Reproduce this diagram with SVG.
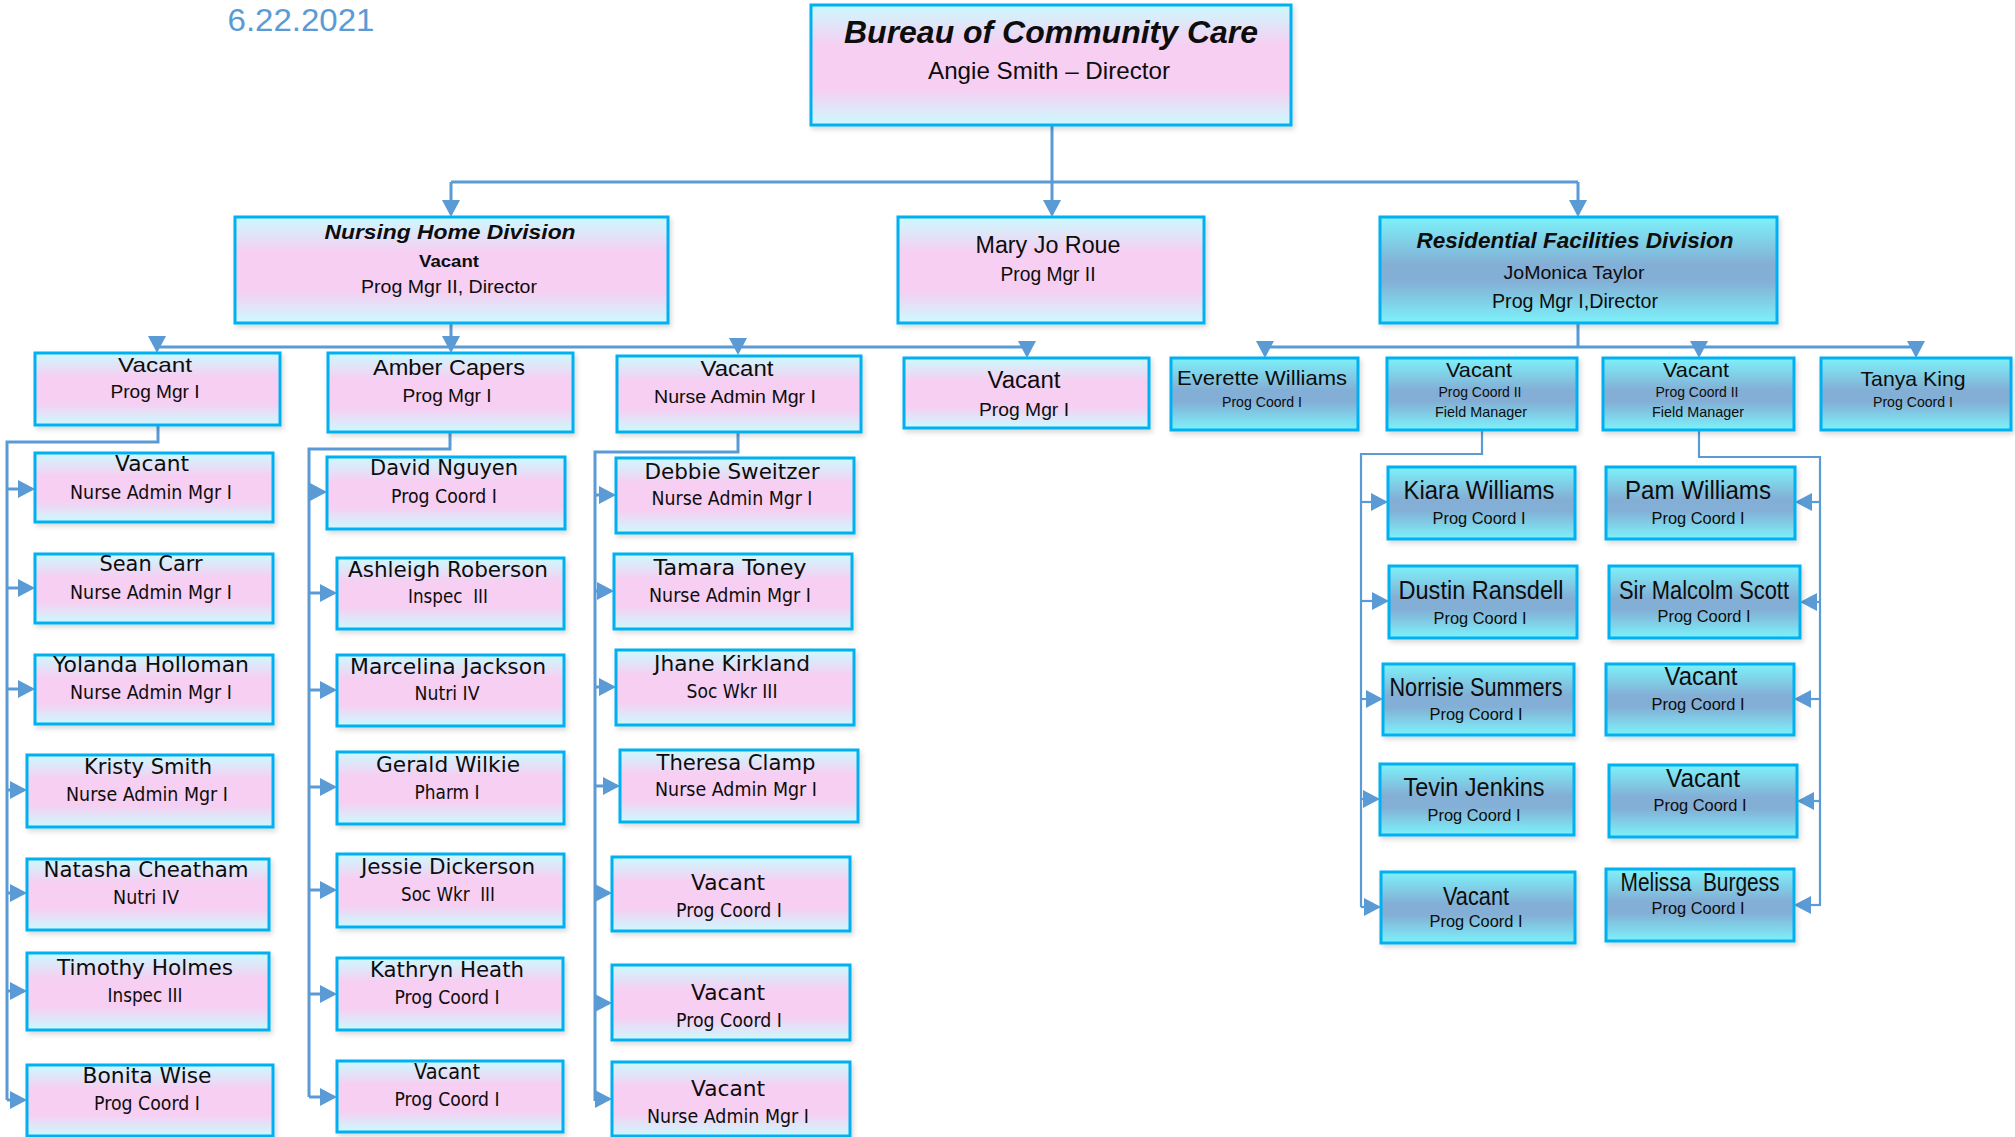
<svg xmlns="http://www.w3.org/2000/svg" width="2015" height="1137" viewBox="0 0 2015 1137">
<style>
.bp{fill:url(#gp);stroke:#00B0F0;stroke-width:3;filter:url(#sh)}
.bb{fill:url(#gb);stroke:#00B0F0;stroke-width:3;filter:url(#sh)}
.cn{fill:none;stroke:#5B9BD5;stroke-width:3}
.cn2{fill:none;stroke:#5B9BD5;stroke-width:2.2}
.ar{fill:none;stroke:#5B9BD5;stroke-width:3;marker-end:url(#ah)}
.ar2{fill:none;stroke:#5B9BD5;stroke-width:2.2;marker-end:url(#ah)}
text{fill:#0d0d0d;text-anchor:middle}
.c{font-family:"Liberation Sans Narrow","Liberation Sans",Arial,sans-serif}
.v{font-family:"DejaVu Sans",Verdana,sans-serif}
.bi{font-weight:bold;font-style:italic}
.b{font-weight:bold}
.n{font-size:22px}
.r{font-size:19px}
.bn{font-size:25px}
.br{font-size:17px}
</style>
<defs>
<linearGradient id="gp" x1="0" y1="0" x2="0" y2="1">
<stop offset="0" stop-color="#CCFAFE"/>
<stop offset="0.33" stop-color="#F6CFF2"/>
<stop offset="0.7" stop-color="#F6CFF2"/>
<stop offset="1" stop-color="#CCFAFE"/>
</linearGradient>
<linearGradient id="gb" x1="0" y1="0" x2="0" y2="1">
<stop offset="0" stop-color="#7DF2FA"/>
<stop offset="0.45" stop-color="#83AED5"/>
<stop offset="0.6" stop-color="#83AED5"/>
<stop offset="1" stop-color="#7DF2FA"/>
</linearGradient>
<filter id="sh" x="-5%" y="-5%" width="115%" height="125%">
<feDropShadow dx="2" dy="3" stdDeviation="2.5" flood-color="#000" flood-opacity="0.15"/>
</filter>
<marker id="ah" markerUnits="userSpaceOnUse" markerWidth="17" markerHeight="18" viewBox="0 0 17 18" refX="14" refY="9" orient="auto">
<path d="M0,0L17,9L0,18z" fill="#5B9BD5"/>
</marker>
</defs>

<text class="c" x="301" y="31" font-size="32" textLength="147" lengthAdjust="spacingAndGlyphs" style="fill:#5B9BD5">6.22.2021</text>

<g id="connectors">
<path class="cn" d="M1052,125V182M451,182H1578"/>
<path class="ar" d="M451,182V214"/>
<path class="ar" d="M1052,182V214"/>
<path class="ar" d="M1578,182V214"/>
<path class="cn" d="M451,323V347M157,347H1027"/>
<path class="ar" d="M157,347V350"/>
<path class="ar" d="M451,347V350"/>
<path class="ar" d="M738,347V352"/>
<path class="ar" d="M1027,347V355"/>
<path class="cn" d="M1578,323V347M1265,347H1916"/>
<path class="ar" d="M1265,347V355"/>
<path class="ar" d="M1699,347V355"/>
<path class="ar" d="M1916,347V355"/>
<path class="cn" d="M158,425V442H7V1100"/>
<path class="ar" d="M7,489H32"/>
<path class="ar" d="M7,588H32"/>
<path class="ar" d="M7,689H32"/>
<path class="ar" d="M7,790H24"/>
<path class="ar" d="M7,893H24"/>
<path class="ar" d="M7,991H24"/>
<path class="ar" d="M7,1100H24"/>
<path class="cn" d="M450,432V449H309V1097"/>
<path class="ar" d="M309,492H324"/>
<path class="ar" d="M309,593H334"/>
<path class="ar" d="M309,690H334"/>
<path class="ar" d="M309,787H334"/>
<path class="ar" d="M309,890H334"/>
<path class="ar" d="M309,994H334"/>
<path class="ar" d="M309,1097H334"/>
<path class="cn" d="M738,432V452H595V1101"/>
<path class="ar" d="M595,495H613"/>
<path class="ar" d="M595,591H611"/>
<path class="ar" d="M595,687H613"/>
<path class="ar" d="M595,786H617"/>
<path class="ar" d="M595,893H609"/>
<path class="ar" d="M595,1003H609"/>
<path class="ar" d="M595,1099H609"/>
<path class="cn2" d="M1482,430V454H1361V907"/>
<path class="ar2" d="M1361,502H1385"/>
<path class="ar2" d="M1361,601H1386"/>
<path class="ar2" d="M1361,699H1380"/>
<path class="ar2" d="M1361,799H1377"/>
<path class="ar2" d="M1361,907H1378"/>
<path class="cn2" d="M1699,430V457H1820V906"/>
<path class="ar2" d="M1820,502H1798"/>
<path class="ar2" d="M1820,602H1803"/>
<path class="ar2" d="M1820,699H1797"/>
<path class="ar2" d="M1820,801H1800"/>
<path class="ar2" d="M1820,905H1797"/>
</g>

<g id="n-bureau"><rect class="bp" x="811" y="5" width="480" height="120"/>
<text class="c bi" x="1051" y="43" font-size="31" textLength="414" lengthAdjust="spacingAndGlyphs">Bureau of Community Care</text>
<text class="c" x="1049" y="79" font-size="24" textLength="242" lengthAdjust="spacingAndGlyphs">Angie Smith – Director</text></g>

<g id="n-nursing"><rect class="bp" x="235" y="217" width="433" height="106"/>
<text class="c bi" x="450" y="239" font-size="21" textLength="251" lengthAdjust="spacingAndGlyphs">Nursing Home Division</text>
<text class="c b" x="449" y="267" font-size="17" textLength="60" lengthAdjust="spacingAndGlyphs">Vacant</text>
<text class="c" x="449" y="293" font-size="18" textLength="176" lengthAdjust="spacingAndGlyphs">Prog Mgr II, Director</text></g>

<g id="n-maryjo"><rect class="bp" x="898" y="217" width="306" height="106"/>
<text class="c" x="1048" y="253" font-size="23" textLength="145" lengthAdjust="spacingAndGlyphs">Mary Jo Roue</text>
<text class="c" x="1048" y="281" font-size="19.5" textLength="95" lengthAdjust="spacingAndGlyphs">Prog Mgr II</text></g>

<g id="n-residential"><rect class="bb" x="1380" y="217" width="397" height="106"/>
<text class="c bi" x="1575" y="248" font-size="22" textLength="317" lengthAdjust="spacingAndGlyphs">Residential Facilities Division</text>
<text class="c" x="1574" y="279" font-size="19" textLength="141" lengthAdjust="spacingAndGlyphs">JoMonica Taylor</text>
<text class="c" x="1575" y="308" font-size="19.5" textLength="166" lengthAdjust="spacingAndGlyphs">Prog Mgr I,Director</text></g>

<g id="n-vacant-pm1"><rect class="bp" x="35" y="353" width="245" height="72"/>
<text class="c" x="155" y="372" font-size="21" textLength="74" lengthAdjust="spacingAndGlyphs">Vacant</text>
<text class="c" x="155" y="398" font-size="18" textLength="89" lengthAdjust="spacingAndGlyphs">Prog Mgr I</text></g>

<g id="n-amber"><rect class="bp" x="328" y="353" width="245" height="79"/>
<text class="c" x="449" y="375" font-size="22" textLength="152" lengthAdjust="spacingAndGlyphs">Amber Capers</text>
<text class="c" x="447" y="402" font-size="18" textLength="89" lengthAdjust="spacingAndGlyphs">Prog Mgr I</text></g>

<g id="n-vacant-nam"><rect class="bp" x="617" y="356" width="244" height="76"/>
<text class="c" x="737" y="376" font-size="22" textLength="73" lengthAdjust="spacingAndGlyphs">Vacant</text>
<text class="c" x="735" y="403" font-size="18" textLength="162" lengthAdjust="spacingAndGlyphs">Nurse Admin Mgr I</text></g>

<g id="n-vacant-pm4"><rect class="bp" x="904" y="358" width="245" height="70"/>
<text class="c" x="1024" y="388" font-size="23" textLength="73" lengthAdjust="spacingAndGlyphs">Vacant</text>
<text class="c" x="1024" y="416" font-size="19" textLength="90" lengthAdjust="spacingAndGlyphs">Prog Mgr I</text></g>

<g id="n-everette"><rect class="bb" x="1171" y="358" width="187" height="72"/>
<text class="c" x="1262" y="385" font-size="21" textLength="170" lengthAdjust="spacingAndGlyphs">Everette Williams</text>
<text class="c" x="1262" y="407" font-size="15" textLength="80" lengthAdjust="spacingAndGlyphs">Prog Coord I</text></g>

<g id="n-vacant-pc2a"><rect class="bb" x="1387" y="358" width="190" height="72"/>
<text class="c" x="1479" y="377" font-size="21" textLength="66" lengthAdjust="spacingAndGlyphs">Vacant</text>
<text class="c" x="1480" y="397" font-size="15" textLength="83" lengthAdjust="spacingAndGlyphs">Prog Coord II</text>
<text class="c" x="1481" y="417" font-size="15" textLength="92" lengthAdjust="spacingAndGlyphs">Field Manager</text></g>

<g id="n-vacant-pc2b"><rect class="bb" x="1603" y="358" width="191" height="72"/>
<text class="c" x="1696" y="377" font-size="21" textLength="66" lengthAdjust="spacingAndGlyphs">Vacant</text>
<text class="c" x="1697" y="397" font-size="15" textLength="83" lengthAdjust="spacingAndGlyphs">Prog Coord II</text>
<text class="c" x="1698" y="417" font-size="15" textLength="92" lengthAdjust="spacingAndGlyphs">Field Manager</text></g>

<g id="n-tanya"><rect class="bb" x="1821" y="358" width="190" height="72"/>
<text class="c" x="1913" y="386" font-size="21" textLength="105" lengthAdjust="spacingAndGlyphs">Tanya King</text>
<text class="c" x="1913" y="407" font-size="15" textLength="80" lengthAdjust="spacingAndGlyphs">Prog Coord I</text></g>

<!-- column 1 -->
<g id="n-c1-vacant"><rect class="bp" x="35" y="453" width="238" height="69"/>
<text class="v n" x="152" y="471" textLength="74" lengthAdjust="spacingAndGlyphs">Vacant</text>
<text class="v r" x="151" y="499" textLength="162" lengthAdjust="spacingAndGlyphs">Nurse Admin Mgr I</text></g>
<g id="n-sean"><rect class="bp" x="35" y="554" width="238" height="69"/>
<text class="v n" x="151" y="571" textLength="103" lengthAdjust="spacingAndGlyphs">Sean Carr</text>
<text class="v r" x="151" y="599" textLength="162" lengthAdjust="spacingAndGlyphs">Nurse Admin Mgr I</text></g>
<g id="n-yolanda"><rect class="bp" x="35" y="655" width="238" height="69"/>
<text class="v n" x="151" y="672" textLength="196" lengthAdjust="spacingAndGlyphs">Yolanda Holloman</text>
<text class="v r" x="151" y="699" textLength="162" lengthAdjust="spacingAndGlyphs">Nurse Admin Mgr I</text></g>
<g id="n-kristy"><rect class="bp" x="27" y="755" width="246" height="72"/>
<text class="v n" x="148" y="774" textLength="128" lengthAdjust="spacingAndGlyphs">Kristy Smith</text>
<text class="v r" x="147" y="801" textLength="162" lengthAdjust="spacingAndGlyphs">Nurse Admin Mgr I</text></g>
<g id="n-natasha"><rect class="bp" x="27" y="859" width="242" height="71"/>
<text class="v n" x="146" y="877" textLength="205" lengthAdjust="spacingAndGlyphs">Natasha Cheatham</text>
<text class="v r" x="146" y="904" textLength="66" lengthAdjust="spacingAndGlyphs">Nutri IV</text></g>
<g id="n-timothy"><rect class="bp" x="27" y="953" width="242" height="77"/>
<text class="v n" x="145" y="975" textLength="176" lengthAdjust="spacingAndGlyphs">Timothy Holmes</text>
<text class="v r" x="145" y="1002" textLength="75" lengthAdjust="spacingAndGlyphs">Inspec III</text></g>
<g id="n-bonita"><rect class="bp" x="27" y="1065" width="246" height="71"/>
<text class="v n" x="147" y="1083" textLength="129" lengthAdjust="spacingAndGlyphs">Bonita Wise</text>
<text class="v r" x="147" y="1110" textLength="106" lengthAdjust="spacingAndGlyphs">Prog Coord I</text></g>

<!-- column 2 -->
<g id="n-david"><rect class="bp" x="327" y="457" width="238" height="72"/>
<text class="v n" x="444" y="475" textLength="148" lengthAdjust="spacingAndGlyphs">David Nguyen</text>
<text class="v r" x="444" y="503" textLength="106" lengthAdjust="spacingAndGlyphs">Prog Coord I</text></g>
<g id="n-ashleigh"><rect class="bp" x="337" y="558" width="227" height="71"/>
<text class="v n" x="448" y="577" textLength="200" lengthAdjust="spacingAndGlyphs">Ashleigh Roberson</text>
<text class="v r" x="448" y="603" textLength="80" lengthAdjust="spacingAndGlyphs" xml:space="preserve">Inspec  III</text></g>
<g id="n-marcelina"><rect class="bp" x="337" y="655" width="227" height="71"/>
<text class="v n" x="448" y="674" textLength="196" lengthAdjust="spacingAndGlyphs">Marcelina Jackson</text>
<text class="v r" x="447" y="700" textLength="65" lengthAdjust="spacingAndGlyphs">Nutri IV</text></g>
<g id="n-gerald"><rect class="bp" x="337" y="752" width="227" height="72"/>
<text class="v n" x="448" y="772" textLength="144" lengthAdjust="spacingAndGlyphs">Gerald Wilkie</text>
<text class="v r" x="447" y="799" textLength="65" lengthAdjust="spacingAndGlyphs">Pharm I</text></g>
<g id="n-jessie"><rect class="bp" x="337" y="854" width="227" height="73"/>
<text class="v n" x="448" y="874" textLength="174" lengthAdjust="spacingAndGlyphs">Jessie Dickerson</text>
<text class="v r" x="448" y="901" textLength="94" lengthAdjust="spacingAndGlyphs" xml:space="preserve">Soc Wkr  III</text></g>
<g id="n-kathryn"><rect class="bp" x="337" y="958" width="226" height="72"/>
<text class="v n" x="447" y="977" textLength="154" lengthAdjust="spacingAndGlyphs">Kathryn Heath</text>
<text class="v r" x="447" y="1004" textLength="105" lengthAdjust="spacingAndGlyphs">Prog Coord I</text></g>
<g id="n-c2-vacant"><rect class="bp" x="337" y="1061" width="226" height="71"/>
<text class="v n" x="447" y="1079" textLength="66" lengthAdjust="spacingAndGlyphs">Vacant</text>
<text class="v r" x="447" y="1106" textLength="105" lengthAdjust="spacingAndGlyphs">Prog Coord I</text></g>

<!-- column 3 -->
<g id="n-debbie"><rect class="bp" x="616" y="458" width="238" height="75"/>
<text class="v n" x="732" y="479" textLength="175" lengthAdjust="spacingAndGlyphs">Debbie Sweitzer</text>
<text class="v r" x="732" y="505" textLength="161" lengthAdjust="spacingAndGlyphs">Nurse Admin Mgr I</text></g>
<g id="n-tamara"><rect class="bp" x="614" y="554" width="238" height="75"/>
<text class="v n" x="730" y="575" textLength="153" lengthAdjust="spacingAndGlyphs">Tamara Toney</text>
<text class="v r" x="730" y="602" textLength="162" lengthAdjust="spacingAndGlyphs">Nurse Admin Mgr I</text></g>
<g id="n-jhane"><rect class="bp" x="616" y="650" width="238" height="75"/>
<text class="v n" x="732" y="671" textLength="156" lengthAdjust="spacingAndGlyphs">Jhane Kirkland</text>
<text class="v r" x="732" y="698" textLength="91" lengthAdjust="spacingAndGlyphs">Soc Wkr III</text></g>
<g id="n-theresa"><rect class="bp" x="620" y="750" width="238" height="72"/>
<text class="v n" x="736" y="770" textLength="159" lengthAdjust="spacingAndGlyphs">Theresa Clamp</text>
<text class="v r" x="736" y="796" textLength="162" lengthAdjust="spacingAndGlyphs">Nurse Admin Mgr I</text></g>
<g id="n-c3-vacant1"><rect class="bp" x="612" y="857" width="238" height="74"/>
<text class="v n" x="728" y="890" textLength="74" lengthAdjust="spacingAndGlyphs">Vacant</text>
<text class="v r" x="729" y="917" textLength="106" lengthAdjust="spacingAndGlyphs">Prog Coord I</text></g>
<g id="n-c3-vacant2"><rect class="bp" x="612" y="965" width="238" height="75"/>
<text class="v n" x="728" y="1000" textLength="74" lengthAdjust="spacingAndGlyphs">Vacant</text>
<text class="v r" x="729" y="1027" textLength="106" lengthAdjust="spacingAndGlyphs">Prog Coord I</text></g>
<g id="n-c3-vacant3"><rect class="bp" x="612" y="1062" width="238" height="74"/>
<text class="v n" x="728" y="1096" textLength="74" lengthAdjust="spacingAndGlyphs">Vacant</text>
<text class="v r" x="728" y="1123" textLength="162" lengthAdjust="spacingAndGlyphs">Nurse Admin Mgr I</text></g>

<!-- column 4 -->
<g id="n-kiara"><rect class="bb" x="1388" y="467" width="187" height="72"/>
<text class="c bn" x="1479" y="499" textLength="151" lengthAdjust="spacingAndGlyphs">Kiara Williams</text>
<text class="c br" x="1479" y="524" textLength="93" lengthAdjust="spacingAndGlyphs">Prog Coord I</text></g>
<g id="n-dustin"><rect class="bb" x="1389" y="566" width="188" height="72"/>
<text class="c bn" x="1481" y="599" textLength="165" lengthAdjust="spacingAndGlyphs">Dustin Ransdell</text>
<text class="c br" x="1480" y="624" textLength="93" lengthAdjust="spacingAndGlyphs">Prog Coord I</text></g>
<g id="n-norrisie"><rect class="bb" x="1383" y="664" width="191" height="71"/>
<text class="c bn" x="1476" y="696" textLength="173" lengthAdjust="spacingAndGlyphs">Norrisie Summers</text>
<text class="c br" x="1476" y="720" textLength="93" lengthAdjust="spacingAndGlyphs">Prog Coord I</text></g>
<g id="n-tevin"><rect class="bb" x="1380" y="764" width="194" height="71"/>
<text class="c bn" x="1474" y="796" textLength="141" lengthAdjust="spacingAndGlyphs">Tevin Jenkins</text>
<text class="c br" x="1474" y="821" textLength="93" lengthAdjust="spacingAndGlyphs">Prog Coord I</text></g>
<g id="n-c4-vacant"><rect class="bb" x="1381" y="872" width="194" height="71"/>
<text class="c bn" x="1476" y="905" textLength="66" lengthAdjust="spacingAndGlyphs">Vacant</text>
<text class="c br" x="1476" y="927" textLength="93" lengthAdjust="spacingAndGlyphs">Prog Coord I</text></g>

<!-- column 5 -->
<g id="n-pam"><rect class="bb" x="1606" y="467" width="189" height="72"/>
<text class="c bn" x="1698" y="499" textLength="146" lengthAdjust="spacingAndGlyphs">Pam Williams</text>
<text class="c br" x="1698" y="524" textLength="93" lengthAdjust="spacingAndGlyphs">Prog Coord I</text></g>
<g id="n-malcolm"><rect class="bb" x="1609" y="566" width="191" height="72"/>
<text class="c bn" x="1704" y="599" textLength="170" lengthAdjust="spacingAndGlyphs">Sir Malcolm Scott</text>
<text class="c br" x="1704" y="622" textLength="93" lengthAdjust="spacingAndGlyphs">Prog Coord I</text></g>
<g id="n-c5-vacant1"><rect class="bb" x="1606" y="664" width="188" height="71"/>
<text class="c bn" x="1701" y="685" textLength="73" lengthAdjust="spacingAndGlyphs">Vacant</text>
<text class="c br" x="1698" y="710" textLength="93" lengthAdjust="spacingAndGlyphs">Prog Coord I</text></g>
<g id="n-c5-vacant2"><rect class="bb" x="1609" y="765" width="188" height="72"/>
<text class="c bn" x="1703" y="787" textLength="74" lengthAdjust="spacingAndGlyphs">Vacant</text>
<text class="c br" x="1700" y="811" textLength="93" lengthAdjust="spacingAndGlyphs">Prog Coord I</text></g>
<g id="n-melissa"><rect class="bb" x="1606" y="869" width="188" height="72"/>
<text class="c bn" x="1700" y="891" textLength="159" lengthAdjust="spacingAndGlyphs" xml:space="preserve">Melissa  Burgess</text>
<text class="c br" x="1698" y="914" textLength="93" lengthAdjust="spacingAndGlyphs">Prog Coord I</text></g>
</svg>
